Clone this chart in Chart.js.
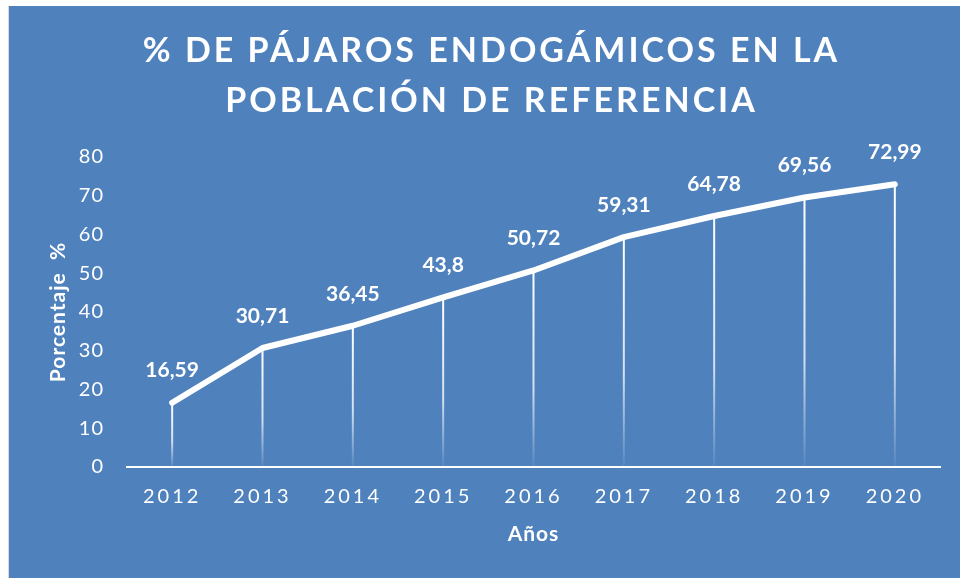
<!DOCTYPE html>
<html>
<head>
<meta charset="utf-8">
<script src="https://cdn.jsdelivr.net/npm/chart.js@4.4.0/dist/chart.umd.min.js"></script>
<style>
html,body{margin:0;padding:0;background:#fff;}
#wrap{position:absolute;left:8px;top:6px;width:952px;height:572px;background:#4F81BD;border-left:1px solid #d9d9d9;box-sizing:border-box;}
canvas{position:absolute;left:-1px;top:0;}
</style>
</head>
<body>
<div id="wrap"><canvas id="myChart" width="952" height="572"></canvas></div>
<script>
// data
const years = ["2012","2013","2014","2015","2016","2017","2018","2019","2020"];
const porcentaje = [16.59,30.71,36.45,43.8,50.72,59.31,64.78,69.56,72.99];
const titleLines = ["% DE PÁJAROS ENDOGÁMICOS EN LA","POBLACIÓN DE REFERENCIA"];

const FONT = "Lato";

// vertical drop lines from each point, fading to the axis
const dropLines = {
    id:'dropLines',
    beforeDraw(chart){
        // axis titles + y ticks get a little spacing
        chart.ctx.letterSpacing = '1px';
    },
    beforeDatasetsDraw(chart){
        const ctx = chart.ctx;
        ctx.letterSpacing = '0px';
        const bottom = chart.chartArea.bottom;
        ctx.save();
        chart.getDatasetMeta(0).data.forEach((p)=>{
            const g = ctx.createLinearGradient(0,p.y,0,bottom);
            g.addColorStop(0,'rgba(255,255,255,1)');
            g.addColorStop(0.6,'rgba(255,255,255,0.75)');
            g.addColorStop(1,'rgba(255,255,255,0.05)');
            ctx.strokeStyle = g;
            ctx.lineWidth = 2;
            ctx.beginPath();
            ctx.moveTo(p.x,p.y);
            ctx.lineTo(p.x,bottom);
            ctx.stroke();
        });
        ctx.restore();
    }
};

// value labels + spacing for x ticks + big title
const labelsAndTitle = {
    id:'labelsAndTitle',
    afterDatasetsDraw(chart){
        const ctx = chart.ctx;
        ctx.save();
        ctx.fillStyle = '#fff';
        ctx.font = 'bold 21px ' + FONT;
        ctx.textAlign = 'center';
        ctx.textBaseline = 'middle';
        chart.getDatasetMeta(0).data.forEach((p,i)=>{
            ctx.fillText(String(porcentaje[i]).replace('.',','), p.x, p.y-32);
        });
        ctx.restore();
        // x tick labels are drawn after this (z:1), spaced out
        ctx.letterSpacing = '3px';
    },
    afterDraw(chart){
        const ctx = chart.ctx;
        ctx.letterSpacing = '0px';
        ctx.save();
        ctx.fillStyle = '#fff';
        ctx.font = 'bold 34px ' + FONT;
        ctx.letterSpacing = '3px';
        ctx.textAlign = 'center';
        ctx.textBaseline = 'middle';
        titleLines.forEach((t,i)=>{
            ctx.fillText(t, 483.5, 45 + i*50);
        });
        ctx.restore();
    }
};

var ctx = document.getElementById('myChart');
const myChart = new Chart(ctx,{
    type:'line',
    data:{
        labels:years,
        datasets:[
            {
                data:porcentaje,
                borderColor:'#fff',
                borderWidth:6,
                borderCapStyle:'round',
                borderJoinStyle:'round',
                pointRadius:0,
                tension:0,
                fill:false
            }
        ]
    },
    options:{
        responsive:false,
        animation:false,
        layout:{
            padding:{top:151,left:0,right:20,bottom:0}
        },
        plugins:{
            legend:{display:false},
            tooltip:{enabled:false}
        },
        scales:{
            x:{
                offset:true,
                grid:{display:false,drawTicks:false},
                border:{display:true,color:'#fff',width:2},
                ticks:{
                    color:'#fff',
                    padding:18,
                    z:1,
                    font:{family:FONT,size:20}
                },
                title:{
                    display:true,
                    text:'Años',
                    color:'#fff',
                    font:{family:FONT,size:21,weight:'bold'},
                    padding:{top:0,bottom:31}
                },
                afterFit(scale){ scale.height = 111; }
            },
            y:{
                min:0,
                max:80,
                grid:{display:false,drawTicks:false},
                border:{display:false},
                ticks:{
                    stepSize:10,
                    color:'#fff',
                    padding:23,
                    font:{family:FONT,size:20}
                },
                title:{
                    display:true,
                    text:'Porcentaje  %',
                    color:'#fff',
                    font:{family:FONT,size:21,weight:'bold'},
                    padding:{top:38,bottom:0}
                },
                afterFit(scale){ scale.width = 119; }
            }
        }
    },
    plugins:[dropLines,labelsAndTitle]
});
</script>
</body>
</html>
